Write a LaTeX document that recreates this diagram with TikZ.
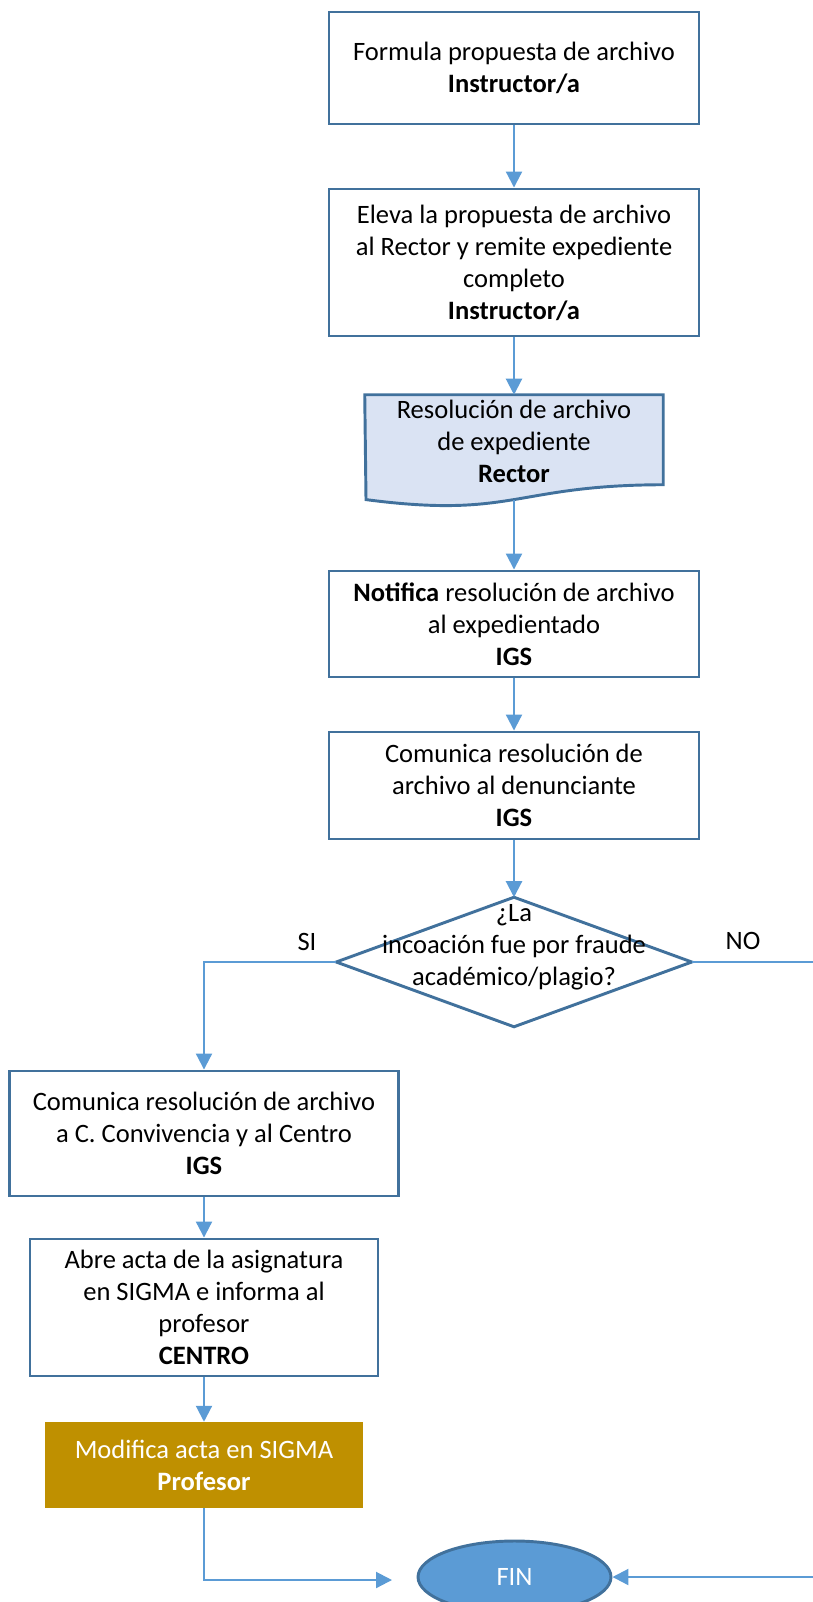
\documentclass[tikz,border=0pt]{standalone}
\usepackage{fontspec}
\setmainfont{Carlito}
\usepackage{tikz}
\usetikzlibrary{arrows.meta,positioning,shapes.geometric,backgrounds}
\definecolor{borde}{RGB}{65,113,156}
\definecolor{azulflecha}{RGB}{91,155,213}
\definecolor{fondodoc}{RGB}{218,227,243}
\definecolor{ocre}{RGB}{191,144,0}

\begin{document}
\begin{tikzpicture}[x=0.75pt, y=-0.75pt,
 every node/.style={font=\fontsize{19.9}{24}\selectfont, align=center, inner sep=0pt},
 caja/.style={draw=borde, line width=2.2pt, minimum width=277.5pt},
 linea/.style={draw=borde, line width=2.2pt},
 flecha/.style={color=azulflecha, line width=1.6pt, -{Triangle[length=12pt,width=12pt]}}]
\useasboundingbox (0,0) rectangle (813,1602);
\node[caja, minimum height=84pt] (formula) at (514,68) {Formula propuesta de archivo\\\textbf{Instructor/a}};
\node[caja, minimum height=110.25pt] (eleva) at (514,262.5) {Eleva la propuesta de archivo\\al Rector y remite expediente\\completo\\\textbf{Instructor/a}};
% documento con borde ondulado
\node[minimum width=223.5pt, minimum height=78.75pt] (resol) at (514,447.5) {};
\begin{scope}[on background layer]
 \draw[linea, fill=fondodoc] (resol.north west) -- (resol.north east) -- ++(0,90)
  .. controls (514,485) and (514,519) .. (366,499.6) -- cycle;
\end{scope}
\node (resoltxt) at (514,441) {Resolución de archivo\\de expediente\\\textbf{Rector}};
\node[caja, minimum height=79.5pt] (notifica) at (514,624) {\textbf{Notifica} resolución de archivo\\al expedientado\\\textbf{IGS}};
\node[caja, minimum height=80.25pt] (comunica) at (514,785.5) {Comunica resolución de\\archivo al denunciante\\\textbf{IGS}};
% rombo de decision
\node[minimum width=266.25pt, minimum height=96.75pt] (pregunta) at (514,962) {};
\draw[linea] (pregunta.north) -- (pregunta.east) -- (pregunta.south) -- (pregunta.west) -- cycle;
\node (preguntatxt) at (514,947) {¿La\\incoación fue por fraude\\académico/plagio?};
\node (si) at (307,942) {SI};
\node (no) at (743,941) {NO};
\node[caja, minimum width=291.75pt, minimum height=93.75pt] (convivencia) at (204,1133.5) {Comunica resolución de archivo\\a C. Convivencia y al Centro\\\textbf{IGS}};
\node[caja, minimum width=261pt, minimum height=102.75pt] (abre) at (204,1307.5) {Abre acta de la asignatura\\en SIGMA e informa al\\profesor\\\textbf{CENTRO}};
\node[fill=ocre, text=white, minimum width=238.5pt, minimum height=64.5pt] (modifica) at (204,1465) {Modifica acta en SIGMA\\\textbf{Profesor}};
\node[ellipse, draw=borde, line width=2.2pt, fill=azulflecha, text=white, minimum width=144.75pt, minimum height=54pt] (fin) at (514.5,1577) {FIN};
\coordinate (llegada) at (392,1580);
\path[flecha] (formula) edge (eleva);
\path[flecha] (eleva) edge (resol);
\path[flecha] (resol) edge (notifica);
\path[flecha] (notifica) edge (comunica);
\path[flecha] (comunica) edge (pregunta.north);
\draw[flecha] (pregunta.west) -| (convivencia);
\draw[flecha] (pregunta.east) -- ++(140,0) |- (fin);
\path[flecha] (convivencia) edge (abre);
\path[flecha] (abre) edge (modifica);
\draw[flecha] (modifica) |- (llegada);
\end{tikzpicture}
\end{document}
